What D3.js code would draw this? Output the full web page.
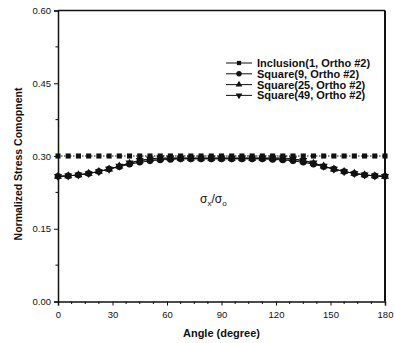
<!DOCTYPE html>
<html lang="en">
<head>
    <meta charset="UTF-8">
    <title>Normalized Stress Component</title>
    <style>
        body { margin: 0; background: #fff; }
        text { font-family: "Liberation Sans", Arial, sans-serif; fill: #111; }
    </style>
</head>
<body>
    <div id="chart-container"></div>
    <script src="https://d3js.org/d3.v7.min.js"></script>
    <script>
        // data
        const angles = [0, 5.625, 11.25, 16.875, 22.5, 28.125, 33.75, 39.375, 45, 50.625, 56.25, 61.875,
            67.5, 73.125, 78.75, 84.375, 90, 95.625, 101.25, 106.875, 112.5, 118.125, 123.75, 129.375,
            135, 140.625, 146.25, 151.875, 157.5, 163.125, 168.75, 174.375, 180];
        const inclusion1 = [0.300, 0.300, 0.300, 0.300, 0.300, 0.300, 0.300, 0.300, 0.300, 0.300, 0.300, 0.300,
            0.300, 0.300, 0.300, 0.300, 0.300, 0.300, 0.300, 0.300, 0.300, 0.300, 0.300, 0.300,
            0.300, 0.300, 0.300, 0.300, 0.300, 0.300, 0.300, 0.300, 0.300];
        const square9 = [0.258, 0.259, 0.261, 0.264, 0.268, 0.273, 0.278, 0.283, 0.287, 0.290, 0.292, 0.293,
            0.294, 0.294, 0.294, 0.294, 0.294, 0.294, 0.294, 0.294, 0.294, 0.293, 0.292, 0.290,
            0.287, 0.283, 0.278, 0.273, 0.268, 0.264, 0.261, 0.259, 0.258];
        const square25 = [0.258, 0.259, 0.261, 0.264, 0.268, 0.273, 0.279, 0.285, 0.290, 0.293, 0.294, 0.295,
            0.295, 0.295, 0.295, 0.295, 0.295, 0.295, 0.295, 0.295, 0.295, 0.295, 0.294, 0.293,
            0.290, 0.285, 0.279, 0.273, 0.268, 0.264, 0.261, 0.259, 0.258];
        const square49 = [0.258, 0.259, 0.261, 0.264, 0.268, 0.273, 0.279, 0.286, 0.291, 0.294, 0.296, 0.296,
            0.296, 0.296, 0.296, 0.296, 0.296, 0.296, 0.296, 0.296, 0.296, 0.296, 0.296, 0.294,
            0.291, 0.286, 0.279, 0.273, 0.268, 0.264, 0.261, 0.259, 0.258];
        const seriesNames = ["Inclusion(1, Ortho #2)", "Square(9, Ortho #2)", "Square(25, Ortho #2)", "Square(49, Ortho #2)"];
        const xTicks = [0, 30, 60, 90, 120, 150, 180];
        const yTicks = [0, 0.15, 0.30, 0.45, 0.60];

        const margin = { top: 10.5, right: 9, bottom: 41.5, left: 58 };
        const width = 394 - margin.left - margin.right;
        const height = 343 - margin.top - margin.bottom;

        const x = d3.scaleLinear().domain([0, 180]).range([0, width]);
        const y = d3.scaleLinear().domain([0, 0.6]).range([height, 0]);

        const svg = d3.select("#chart-container")
          .append("svg")
          .attr("width", 394)
          .attr("height", 343)
          .append("g")
          .attr("transform", `translate(${margin.left},${margin.top})`);

        const series = [
            { name: seriesNames[0], values: inclusion1, symbol: d3.symbolSquare, size: 26, dash: "1.5,1.5", rot: 0 },
            { name: seriesNames[1], values: square9, symbol: d3.symbolCircle, size: 34, dash: null, rot: 0 },
            { name: seriesNames[2], values: square25, symbol: d3.symbolTriangle, size: 28, dash: null, rot: 0 },
            { name: seriesNames[3], values: square49, symbol: d3.symbolTriangle, size: 28, dash: null, rot: 180 }
        ];

        // frame
        svg.append("line").attr("x1", 0).attr("x2", width).attr("y1", 0).attr("y2", 0)
          .attr("stroke", "#111").attr("stroke-width", 1.5);
        svg.append("line").attr("x1", width).attr("x2", width).attr("y1", 0).attr("y2", height)
          .attr("stroke", "#111").attr("stroke-width", 2);

        // axes
        const minorX = d3.range(0, 181, 7.5).filter(d => !xTicks.includes(d));
        const minorY = [0.075, 0.225, 0.375, 0.525];

        const xAxis = svg.append("g")
          .attr("transform", `translate(0,${height})`)
          .call(d3.axisBottom(x).tickValues(xTicks).tickFormat(d3.format("d")).tickSize(4).tickPadding(6));
        svg.append("g")
          .attr("transform", `translate(0,${height})`)
          .selectAll("line")
          .data(minorX)
          .join("line")
          .attr("x1", d => x(d)).attr("x2", d => x(d))
          .attr("y1", 0).attr("y2", 2.5)
          .attr("stroke", "#111");

        const yAxis = svg.append("g")
          .call(d3.axisLeft(y).tickValues(yTicks).tickFormat(d3.format(".2f")).tickSize(4).tickPadding(3));
        svg.append("g")
          .selectAll("line")
          .data(minorY)
          .join("line")
          .attr("x1", 0).attr("x2", -2.5)
          .attr("y1", d => y(d)).attr("y2", d => y(d))
          .attr("stroke", "#111");

        [xAxis, yAxis].forEach(g => {
            g.select(".domain").attr("stroke", "#111").attr("stroke-width", 1.5);
            g.selectAll(".tick line").attr("stroke", "#111");
            g.selectAll(".tick text")
              .style("font-family", "'Liberation Sans', Arial, sans-serif")
              .style("font-size", "9.5px")
              .attr("fill", "#111");
        });

        // axis titles
        svg.append("text")
          .attr("x", width / 2)
          .attr("y", height + 35)
          .style("text-anchor", "middle")
          .style("font-size", "11px")
          .style("font-weight", "bold")
          .text("Angle (degree)");

        svg.append("text")
          .attr("transform", `translate(${-36},${height / 2 + 8}) rotate(-90)`)
          .style("text-anchor", "middle")
          .style("font-size", "10.5px")
          .style("font-weight", "bold")
          .text("Normalized Stress Comopnent");

        // lines and markers
        const line = d3.line()
          .x((d, i) => x(angles[i]))
          .y(d => y(d));

        series.forEach(s => {
            svg.append("path")
              .datum(s.values)
              .attr("fill", "none")
              .attr("stroke", "#111")
              .attr("stroke-width", 1)
              .attr("stroke-dasharray", s.dash)
              .attr("d", line);
        });

        series.slice().reverse().forEach(s => {
            svg.append("g")
              .selectAll("path")
              .data(s.values)
              .join("path")
              .attr("transform", (d, i) => `translate(${x(angles[i])},${y(d)}) rotate(${s.rot})`)
              .attr("d", d3.symbol().type(s.symbol).size(s.size))
              .attr("fill", "#111");
        });

        // legend
        const legend = svg.append("g")
          .attr("transform", `translate(${226 - margin.left},${63 - margin.top})`);
        series.forEach((s, i) => {
            const row = legend.append("g").attr("transform", `translate(0,${i * 10.8})`);
            row.append("line").attr("x1", 0).attr("x2", 26).attr("y1", 0).attr("y2", 0)
              .attr("stroke", "#111").attr("stroke-width", 1);
            row.append("path")
              .attr("transform", `translate(13,0) rotate(${s.rot})`)
              .attr("d", d3.symbol().type(s.symbol).size(s.size * 0.7))
              .attr("fill", "#111");
            row.append("text")
              .attr("x", 31)
              .attr("y", 4)
              .style("font-size", "11px")
              .style("font-weight", "bold")
              .text(s.name);
        });

        // annotation
        const note = svg.append("text")
          .attr("x", 200 - margin.left)
          .attr("y", 203 - margin.top)
          .style("font-size", "12px");
        note.append("tspan").text("σ");
        note.append("tspan").attr("dy", 3).style("font-size", "8px").text("x");
        note.append("tspan").attr("dy", -3).text("/σ");
        note.append("tspan").attr("dy", 3).style("font-size", "8px").text("o");
    </script>
</body>
</html>
